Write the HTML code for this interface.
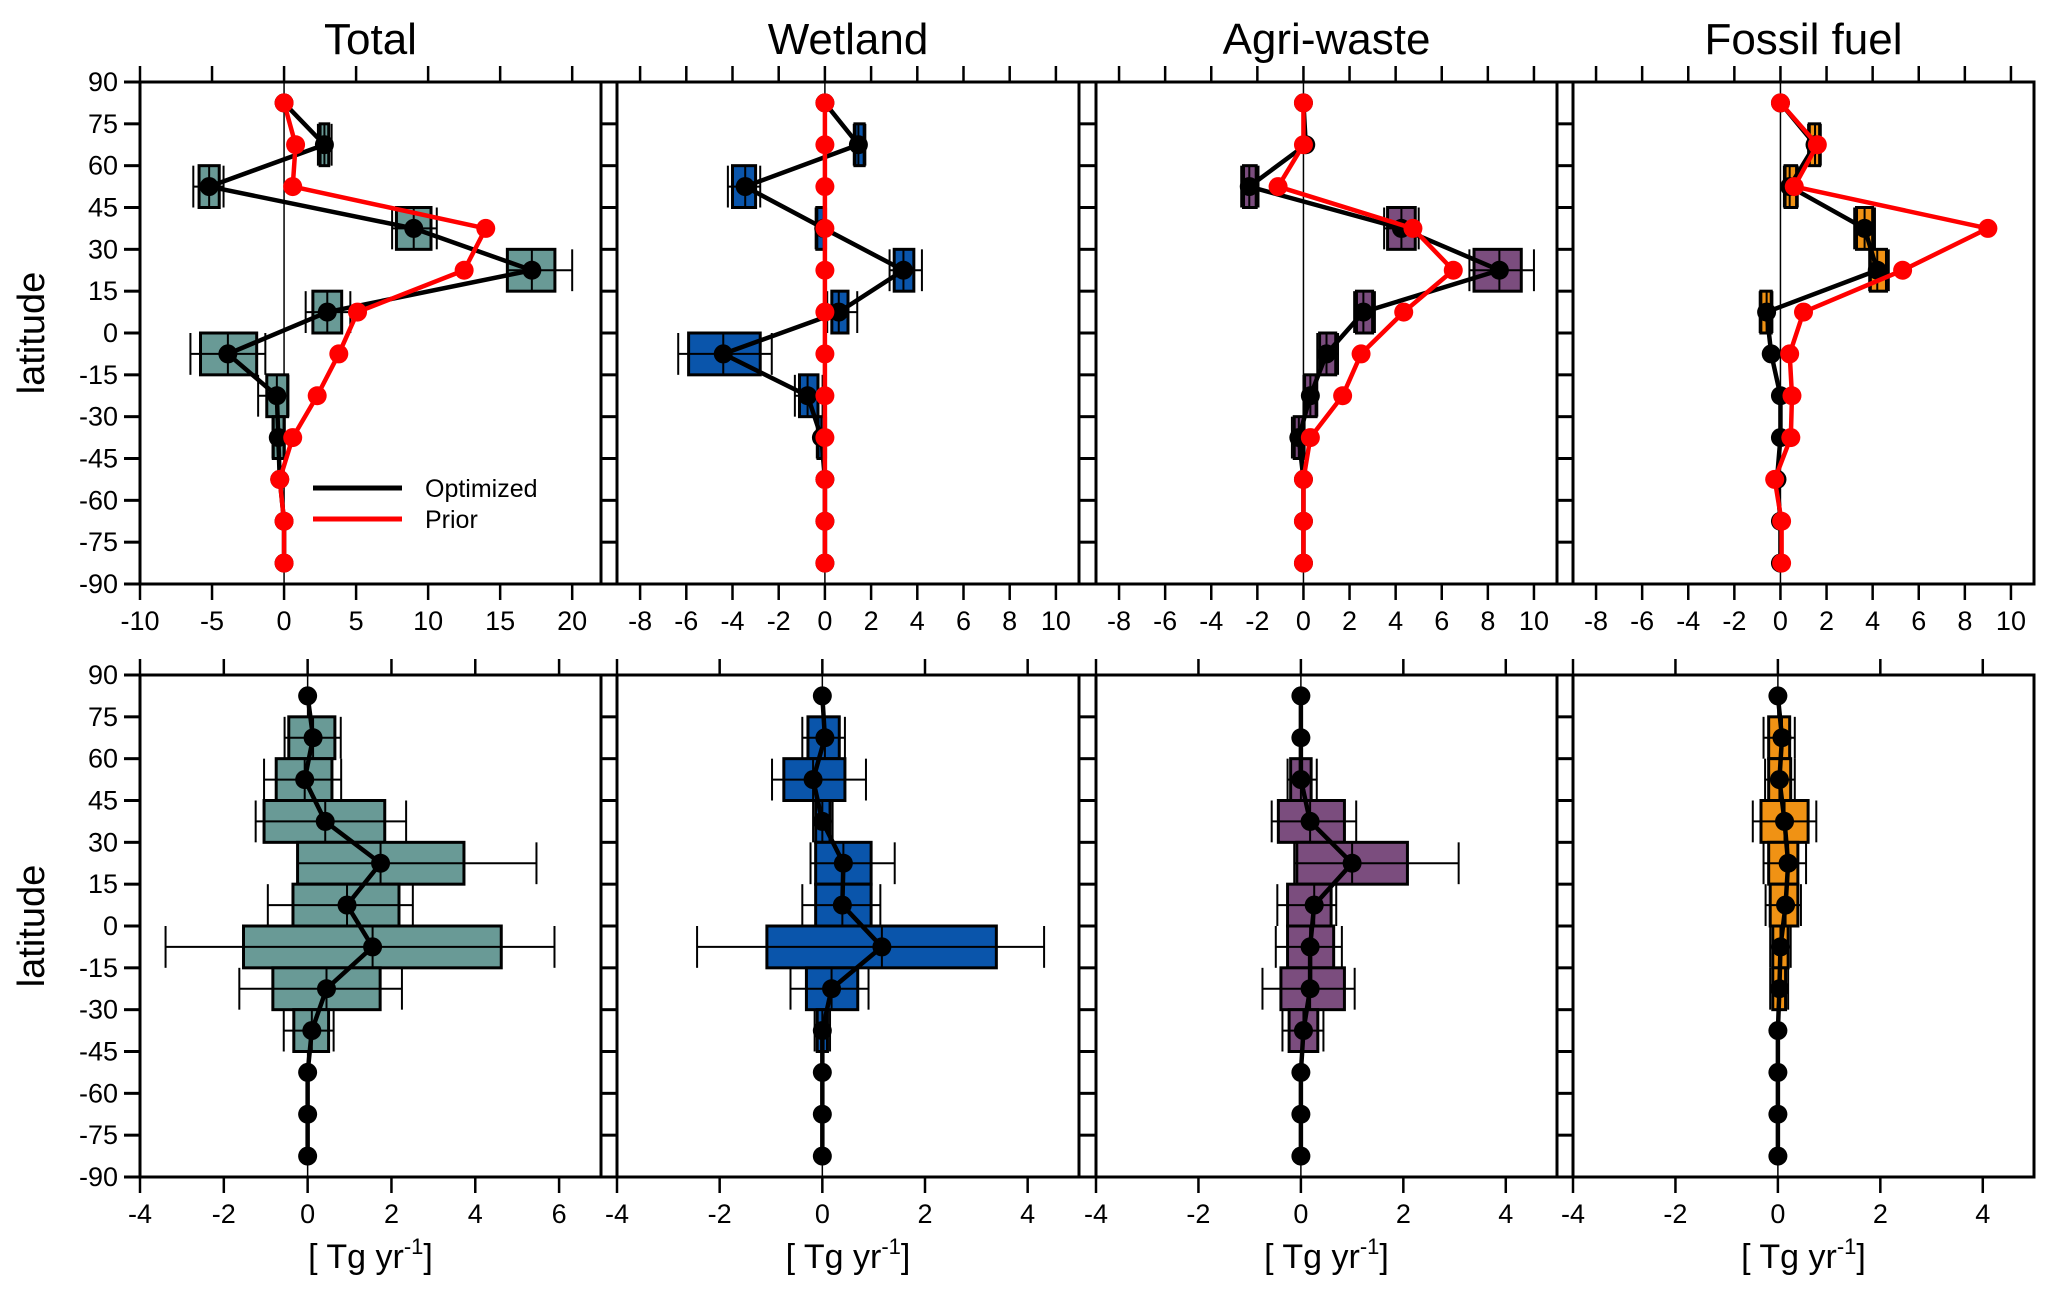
<!DOCTYPE html>
<html><head><meta charset="utf-8">
<style>
html,body{margin:0;padding:0;background:#fff;}
svg{display:block;}
text{font-family:"Liberation Sans","DejaVu Sans",sans-serif;fill:#000;}
</style></head>
<body>
<svg id="chart" width="2067" height="1298" viewBox="0 0 2067 1298" xmlns="http://www.w3.org/2000/svg"></svg>
<script>
// ---- data ----
const lats = [82.5,67.5,52.5,37.5,22.5,7.5,-7.5,-22.5,-37.5,-52.5,-67.5,-82.5];
const titles = ["Total","Wetland","Agri-waste","Fossil fuel"];
const colors = ["#699a96","#0a55ab","#7b4d7e","#f09214"];
const topTicks0 = [-10,-5,0,5,10,15,20];
const topTicksN = [-8,-6,-4,-2,0,2,4,6,8,10];
const botTicks0 = [-4,-2,0,2,4,6];
const botTicksN = [-4,-2,0,2,4];
const yTicks = [90,75,60,45,30,15,0,-15,-30,-45,-60,-75,-90];

// top row: optimized, prior
const totOpt = [0,2.8,-5.2,9.0,17.2,3.0,-3.9,-0.5,-0.4,-0.3,0,0];
const totPri = [0,0.8,0.6,14.0,12.5,5.1,3.8,2.3,0.6,-0.3,0,0];
const totLo  = [null,2.5,-5.9,7.8,15.5,2.0,-5.8,-1.2,-0.75,null,null,null];
const totHi  = [null,3.1,-4.5,10.2,18.8,4.0,-1.9,0.25,0,null,null,null];
const totWl  = [null,2.35,-6.3,7.5,15.5,1.5,-6.5,-1.8,-0.8,null,null,null];
const totWh  = [null,3.3,-4.2,10.6,20.0,4.6,-1.3,0.3,0.05,null,null,null];

const wetOpt = [0,1.45,-3.45,-0.05,3.4,0.6,-4.4,-0.75,-0.15,0,0,0];
const wetPri = [0,0,0,0,0,0,0,0,0,0,0,0];
const wetLo  = [null,1.3,-4.0,-0.35,3.0,0.3,-5.9,-1.1,-0.3,null,null,null];
const wetHi  = [null,1.7,-3.0,0,3.85,1.0,-2.8,-0.3,0,null,null,null];
const wetWl  = [null,1.25,-4.2,-0.4,2.8,0.1,-6.35,-1.3,-0.35,null,null,null];
const wetWh  = [null,1.75,-2.8,0.05,4.2,1.4,-2.3,-0.1,0.05,null,null,null];

const agrOpt = [0,0.1,-2.35,4.25,8.5,2.6,1.0,0.3,-0.2,0,0,0];
const agrPri = [0,0,-1.1,4.75,6.5,4.35,2.5,1.7,0.3,0,0,0];
const agrLo  = [null,null,-2.6,3.65,7.4,2.3,0.7,0.05,-0.4,null,null,null];
const agrHi  = [null,null,-2.05,4.85,9.45,3.0,1.4,0.55,0,null,null,null];
const agrWl  = [null,null,-2.7,3.5,7.2,2.2,0.6,0,-0.5,null,null,null];
const agrWh  = [null,null,-1.95,5.0,10.0,3.1,1.5,0.6,0.05,null,null,null];

const fosOpt = [0,1.5,0.4,3.65,4.2,-0.6,-0.4,0,0,-0.15,0,0];
const fosPri = [0,1.6,0.6,9.0,5.3,1.0,0.4,0.5,0.45,-0.25,0.05,0.05];
const fosLo  = [null,1.25,0.2,3.3,3.9,-0.85,null,null,null,null,null,null];
const fosHi  = [null,1.7,0.7,4.0,4.6,-0.4,null,null,null,null,null,null];
const fosWl  = [null,1.2,0.15,3.2,3.85,-0.9,null,null,null,null,null,null];
const fosWh  = [null,1.75,0.75,4.1,4.7,-0.35,null,null,null,null,null,null];

// bottom row
const bTotDot = [0,0.13,-0.07,0.42,1.74,0.94,1.55,0.45,0.1,0,0,0];
const bTotLo  = [null,-0.45,-0.75,-1.04,-0.24,-0.35,-1.53,-0.83,-0.33,null,null,null];
const bTotHi  = [null,0.65,0.58,1.84,3.73,2.18,4.62,1.73,0.5,null,null,null];
const bTotWl  = [null,-0.55,-1.04,-1.24,-0.24,-0.95,-3.39,-1.63,-0.57,null,null,null];
const bTotWh  = [null,0.79,0.8,2.35,5.46,2.51,5.89,2.25,0.62,null,null,null];

const bWetDot = [0,0.05,-0.18,0,0.41,0.39,1.16,0.18,0,0,0,0];
const bWetLo  = [null,-0.28,-0.75,-0.13,-0.13,-0.13,-1.08,-0.31,-0.1,null,null,null];
const bWetHi  = [null,0.33,0.44,0.15,0.95,0.95,3.39,0.69,0.1,null,null,null];
const bWetWl  = [null,-0.39,-0.98,-0.18,-0.23,-0.39,-2.44,-0.62,-0.15,null,null,null];
const bWetWh  = [null,0.44,0.85,0.2,1.41,1.13,4.32,0.9,0.15,null,null,null];

const bAgrDot = [0,0,0,0.18,1.0,0.26,0.18,0.18,0.05,0,0,0];
const bAgrLo  = [null,null,-0.2,-0.44,-0.08,-0.26,-0.26,-0.39,-0.23,null,null,null];
const bAgrHi  = [null,null,0.2,0.85,2.08,0.59,0.64,0.85,0.33,null,null,null];
const bAgrWl  = [null,null,-0.26,-0.57,-0.13,-0.46,-0.49,-0.75,-0.36,null,null,null];
const bAgrWh  = [null,null,0.31,1.08,3.08,0.69,0.8,1.05,0.44,null,null,null];

const bFosDot = [0,0.08,0.03,0.13,0.2,0.15,0.05,0.03,0,0,0,0];
const bFosLo  = [null,-0.18,-0.18,-0.33,-0.18,-0.15,-0.1,-0.1,null,null,null,null];
const bFosHi  = [null,0.23,0.25,0.59,0.39,0.39,0.2,0.15,null,null,null,null];
const bFosWl  = [null,-0.28,-0.25,-0.49,-0.28,-0.24,-0.15,-0.15,null,null,null,null];
const bFosWh  = [null,0.33,0.33,0.75,0.55,0.45,0.25,0.2,null,null,null,null];

// ---- layout ----
const NS = "http://www.w3.org/2000/svg";
const svg = document.getElementById("chart");
const panelX = [[140,601],[617,1079],[1096,1557],[1573,2034]];
const rows = [{top:82,bot:584},{top:675,bot:1177}];
const topDom = [[-10,22],[-9,11],[-9,11],[-9,11]];
const botDom = [[-4,7],[-4,5],[-4,5],[-4,5]];

function mk(tag, attrs, parent){
  const e = document.createElementNS(NS, tag);
  for (const k in attrs) e.setAttribute(k, attrs[k]);
  (parent||svg).appendChild(e);
  return e;
}
function txt(s, x, y, size, anchor, parent){
  const t = mk("text",{x:x,y:y,"font-size":size,"text-anchor":anchor||"middle"},parent);
  t.textContent = s;
  return t;
}

function drawPanel(p, r, dom, ticks, opt, pri, lo, hi, wl, wh, name){
  const g = mk("g",{});
  
  
  const [x0,x1] = panelX[p];
  const {top,bot} = rows[r];
  const xs = v => x0 + (v-dom[0])/(dom[1]-dom[0])*(x1-x0);
  const ys = v => top + (90-v)/180*(bot-top);
  mk("line",{x1:xs(0),x2:xs(0),y1:top,y2:bot,stroke:"#000","stroke-width":1.5},g);
  mk("rect",{x:x0,y:top,width:x1-x0,height:bot-top,fill:"none",stroke:"#000","stroke-width":3},g);
  yTicks.forEach(v=>{
    mk("line",{x1:x0-16,x2:x0,y1:ys(v),y2:ys(v),stroke:"#000","stroke-width":3},g);
    if(p===0){ const t=txt(String(v), x0-22, ys(v)+9, 27, "end", g);
      
       }
  });
  ticks.forEach(v=>{
    mk("line",{x1:xs(v),x2:xs(v),y1:top-16,y2:top,stroke:"#000","stroke-width":2.5},g);
    mk("line",{x1:xs(v),x2:xs(v),y1:bot,y2:bot+16,stroke:"#000","stroke-width":2.5},g);
    const t = txt(String(v), xs(v), bot+46, 27, "middle", g);
    
    
  });
  lats.forEach((la,i)=>{
    if (lo[i]===null) return;
    const yt = ys(la+7.5), yb = ys(la-7.5), ym = ys(la);
    const wg = mk("g",{stroke:"#000","stroke-width":2},g);
    
    
    mk("line",{x1:xs(wl[i]),x2:xs(wh[i]),y1:ym,y2:ym},wg);
    mk("line",{x1:xs(wl[i]),x2:xs(wl[i]),y1:yt,y2:yb},wg);
    mk("line",{x1:xs(wh[i]),x2:xs(wh[i]),y1:yt,y2:yb},wg);
    mk("rect",{x:xs(lo[i]),y:yt,width:Math.max(2,xs(hi[i])-xs(lo[i])),height:yb-yt,fill:colors[p],"stroke-width":3},wg);
    mk("line",{x1:xs(opt[i]),x2:xs(opt[i]),y1:yt,y2:yb},wg);
    mk("line",{x1:xs(lo[i]),x2:xs(hi[i]),y1:ym,y2:ym},wg);
  });
  function series(vals, col, nm){
    const sg = mk("g",{},g);
    
    
    mk("polyline",{points:vals.map((v,i)=>xs(v)+","+ys(lats[i])).join(" "),fill:"none",stroke:col,"stroke-width":4.5,"stroke-linejoin":"round"},sg);
    vals.forEach((v,i)=>{
      const c = mk("circle",{cx:xs(v),cy:ys(lats[i]),r:9.5,fill:col},sg);
      
      
    });
  }
  series(opt,"#000","optimized-line");
  if (pri) series(pri,"#ff0000","prior-line");
}

drawPanel(0,0,topDom[0],topTicks0,totOpt,totPri,totLo,totHi,totWl,totWh,"total-top-panel");
drawPanel(1,0,topDom[1],topTicksN,wetOpt,wetPri,wetLo,wetHi,wetWl,wetWh,"wetland-top-panel");
drawPanel(2,0,topDom[2],topTicksN,agrOpt,agrPri,agrLo,agrHi,agrWl,agrWh,"agri-waste-top-panel");
drawPanel(3,0,topDom[3],topTicksN,fosOpt,fosPri,fosLo,fosHi,fosWl,fosWh,"fossil-fuel-top-panel");
drawPanel(0,1,botDom[0],botTicks0,bTotDot,null,bTotLo,bTotHi,bTotWl,bTotWh,"total-bottom-panel");
drawPanel(1,1,botDom[1],botTicksN,bWetDot,null,bWetLo,bWetHi,bWetWl,bWetWh,"wetland-bottom-panel");
drawPanel(2,1,botDom[2],botTicksN,bAgrDot,null,bAgrLo,bAgrHi,bAgrWl,bAgrWh,"agri-waste-bottom-panel");
drawPanel(3,1,botDom[3],botTicksN,bFosDot,null,bFosLo,bFosHi,bFosWl,bFosWh,"fossil-fuel-bottom-panel");

titles.forEach((s,i)=>{
  const t = txt(s,(panelX[i][0]+panelX[i][1])/2,54,44,"middle");
  
  
  const u = mk("text",{x:(panelX[i][0]+panelX[i][1])/2,y:1268,"font-size":34,"text-anchor":"middle"});
  
  
  u.innerHTML = '[ Tg yr<tspan dy="-14" font-size="22">-1</tspan><tspan dy="14">]</tspan>';
});
rows.forEach(r=>{
  const cy=(r.top+r.bot)/2;
  const t = mk("text",{x:0,y:0,"font-size":38,"text-anchor":"middle",transform:"translate(44,"+cy+") rotate(-90)"});
  t.textContent="latitude";
  
  
});
const lg = mk("g",{});


mk("line",{x1:313,x2:402,y1:488,y2:488,stroke:"#000","stroke-width":5},lg);
mk("line",{x1:313,x2:402,y1:519,y2:519,stroke:"#ff0000","stroke-width":5},lg);
const l1 = txt("Optimized",425,497,25,"start",lg);


const l2 = txt("Prior",425,528,25,"start",lg);


</script>
</body></html>
